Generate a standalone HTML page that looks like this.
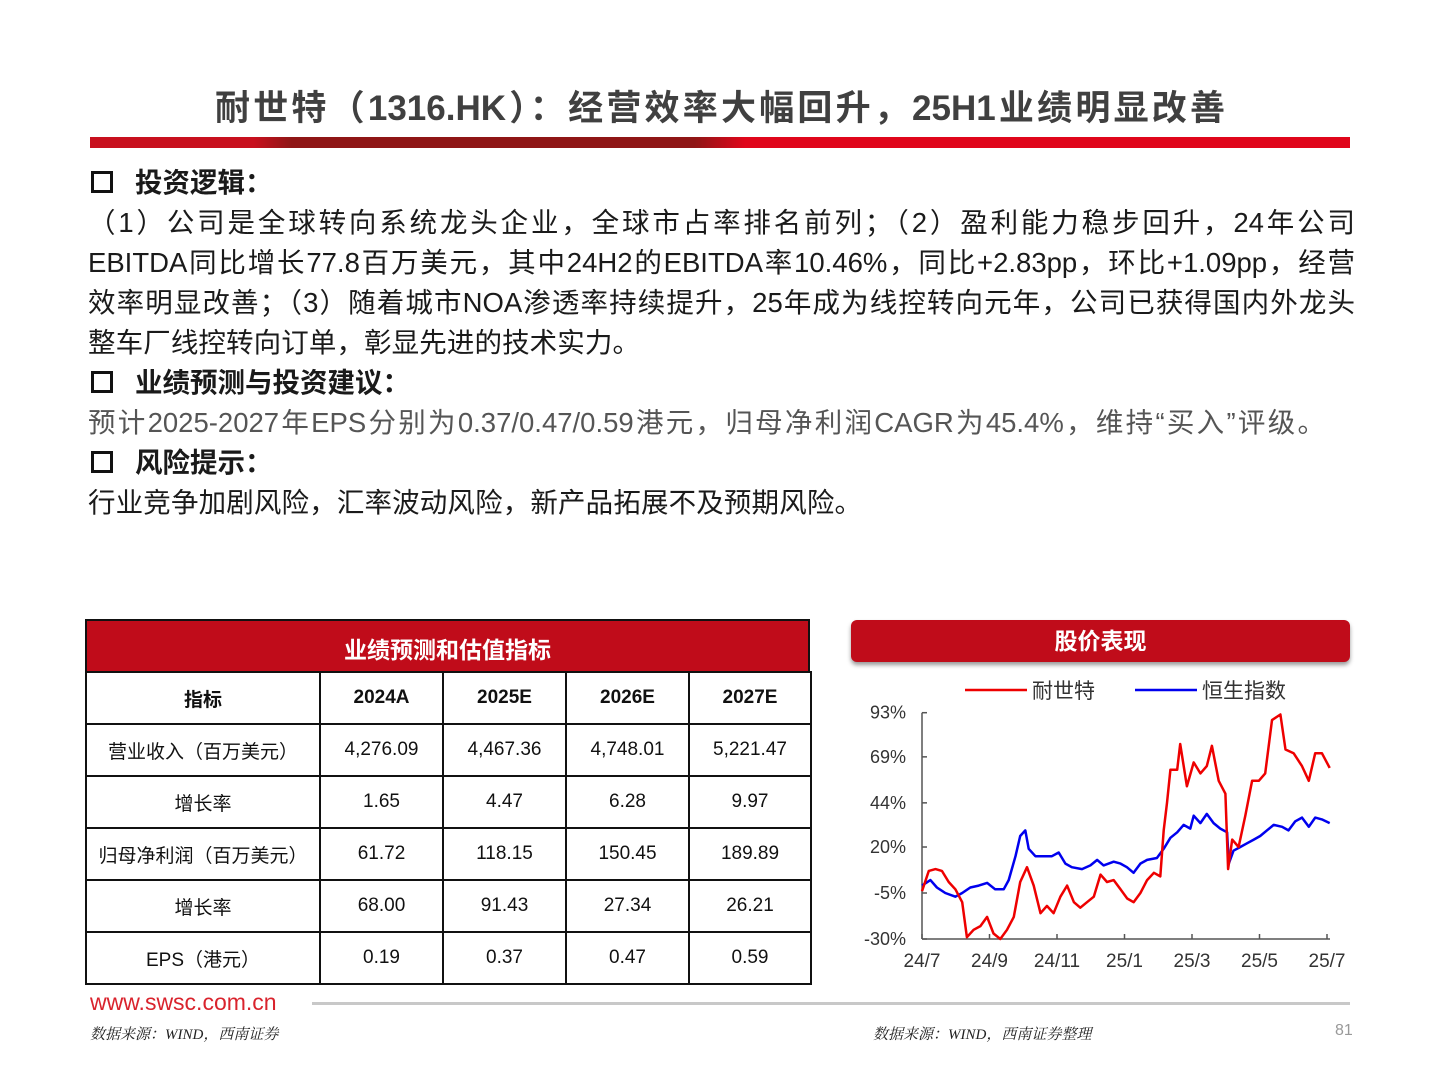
<!DOCTYPE html>
<html><head><meta charset="utf-8">
<style>
body{margin:0;width:1440px;height:1080px;background:#fff;position:relative;overflow:hidden;font-family:"Liberation Sans","Noto Sans CJK SC",sans-serif;}
.abs{position:absolute;}
#title{left:215px;width:1010px;top:80px;text-align:justify;text-align-last:justify;font-size:35px;font-weight:bold;color:#404040;white-space:nowrap;}
#bar{left:90px;top:137px;width:1260px;height:11px;background:linear-gradient(90deg,#c8101e 0%,#c8101e 13%,#8f1616 16%,#8f1616 48%,#e0061b 52%,#e0061b 100%);}
.txt{left:88px;font-size:27.5px;color:#1a1a1a;line-height:40px;white-space:nowrap;}
.ln{display:block;text-align:justify;text-align-last:justify;height:40px;}
.hd{font-weight:bold;}
.box{display:inline-block;width:16px;height:16px;border:3px solid #111;margin-right:22px;vertical-align:-1px;margin-left:3px;}
table{border-collapse:collapse;position:absolute;left:85px;top:671px;}
td{border:2px solid #111;height:50px;text-align:center;font-size:19px;color:#111;padding:0;}
#thead{left:85px;top:619px;width:725px;height:52px;background:#c00c1a;color:#fff;font-weight:bold;font-size:23px;text-align:center;line-height:58px;border:2px solid #111;box-sizing:border-box;border-bottom:none;}
#phead{left:851px;top:620px;width:499px;height:42px;background:#c00c1a;color:#fff;font-weight:bold;font-size:23px;text-align:center;line-height:42px;border-radius:6px;box-shadow:0 3px 4px #999;}
.src{font-size:15px;font-style:italic;color:#222;font-family:"Liberation Serif","Noto Serif CJK SC",serif;}
</style></head><body>
<div id="title" class="abs">耐世特（1316.HK）：经营效率大幅回升，25H1业绩明显改善</div>
<div id="bar" class="abs"></div>
<div class="abs txt hd" style="top:163px"><span class="box"></span>投资逻辑：</div>
<div class="abs txt" style="top:203px">
<span class="ln" style="width:1267px">（1）公司是全球转向系统龙头企业，全球市占率排名前列；（2）盈利能力稳步回升，24年公司</span>
<span class="ln" style="width:1267px">EBITDA同比增长77.8百万美元，其中24H2的EBITDA率10.46%，同比+2.83pp，环比+1.09pp，经营</span>
<span class="ln" style="width:1267px">效率明显改善；（3）随着城市NOA渗透率持续提升，25年成为线控转向元年，公司已获得国内外龙头</span>
<span class="ln" style="width:552px">整车厂线控转向订单，彰显先进的技术实力。</span></div>
<div class="abs txt hd" style="top:363px"><span class="box"></span>业绩预测与投资建议：</div>
<div class="abs txt" style="top:403px;color:#555"><span class="ln" style="width:1237px">预计2025-2027年EPS分别为0.37/0.47/0.59港元，归母净利润CAGR为45.4%，维持“买入”评级。</span></div>
<div class="abs txt hd" style="top:443px"><span class="box"></span>风险提示：</div>
<div class="abs txt" style="top:483px"><span class="ln" style="width:774px">行业竞争加剧风险，汇率波动风险，新产品拓展不及预期风险。</span></div>

<div id="thead" class="abs">业绩预测和估值指标</div>
<table>
<tr><td style="width:232px;font-weight:bold">指标</td><td style="width:121px;font-weight:bold">2024A</td><td style="width:121px;font-weight:bold">2025E</td><td style="width:121px;font-weight:bold">2026E</td><td style="width:120px;font-weight:bold">2027E</td></tr>
<tr><td>营业收入（百万美元）</td><td>4,276.09</td><td>4,467.36</td><td>4,748.01</td><td>5,221.47</td></tr>
<tr><td>增长率</td><td>1.65</td><td>4.47</td><td>6.28</td><td>9.97</td></tr>
<tr><td>归母净利润（百万美元）</td><td>61.72</td><td>118.15</td><td>150.45</td><td>189.89</td></tr>
<tr><td>增长率</td><td>68.00</td><td>91.43</td><td>27.34</td><td>26.21</td></tr>
<tr><td>EPS（港元）</td><td>0.19</td><td>0.37</td><td>0.47</td><td>0.59</td></tr>
</table>

<div id="phead" class="abs">股价表现</div>
<svg id="chart" class="abs" style="left:0;top:0" width="1440" height="1080"></svg>

<div class="abs" style="left:90px;top:989px;font-size:23px;color:#d9232d">www.swsc.com.cn</div>
<div class="abs" style="left:312px;top:1002px;width:1038px;height:3px;background:#c8c8c8"></div>
<div class="abs src" style="left:90px;top:1023px">数据来源：WIND，西南证券</div>
<div class="abs src" style="left:873px;top:1023px">数据来源：WIND，西南证券整理</div>
<div class="abs" style="left:1335px;top:1022px;font-size:16px;color:#999">81</div>

<script>
const yTicks=[93,69,44,20,-5,-30];
const xLabels=["24/7","24/9","24/11","25/1","25/3","25/5","25/7"];
const xLabelMonths=[0,2,4,6,8,10,12];
const redT=[0,0.2,0.4,0.59,0.79,0.99,1.19,1.33,1.53,1.73,1.93,2.12,2.32,2.52,2.72,2.91,3.11,3.31,3.51,3.70,3.90,4.10,4.30,4.50,4.69,4.89,5.09,5.29,5.48,5.68,5.88,6.08,6.27,6.47,6.67,6.87,7.06,7.16,7.26,7.36,7.56,7.65,7.85,8.05,8.25,8.44,8.59,8.79,8.99,9.07,9.19,9.38,9.58,9.78,9.98,10.17,10.37,10.62,10.77,11.01,11.26,11.46,11.65,11.85,12.08];
const redV=[-4,7,8,7,1,-3,-10,-29,-25,-23,-18,-27,-30,-25,-18,1,9,-1,-16,-12,-16,-7,-1,-10,-13,-10,-7,5,1,2,-3,-8,-10,-5,2,6,4,29,44,62,62,76,53,66,60,64,75,56,49,8,24,20,37,56,56,60,89,92,73,71,64,56,71,71,63];
const blueT=[0,0.25,0.44,0.69,0.99,1.19,1.43,1.68,1.93,2.17,2.42,2.57,2.77,2.91,3.06,3.16,3.36,3.56,3.85,4.05,4.25,4.44,4.74,4.99,5.19,5.38,5.68,5.88,6.07,6.27,6.47,6.67,6.96,7.16,7.36,7.56,7.75,7.95,8.05,8.25,8.44,8.64,8.84,9.04,9.09,9.23,9.43,9.63,9.83,10.02,10.22,10.42,10.67,10.86,11.06,11.26,11.46,11.65,11.85,12.08];
const blueV=[-1,2,-2,-5,-7,-5,-2,-1,0.5,-3,-3,2,15,26,29,19,15,15,15,17,11,9,8,10,13,10,12,11,9,6,11,13,14,19,25,28,32,30,37,33,38,33,30,28,11,18,20,22,24,26,29,32,31,29,34,36,31,36,35,33];
const svg=document.getElementById('chart');
const NS='http://www.w3.org/2000/svg';
const X0=922,X1=1327,Y0=712.7,Y1=939;
function xs(t){return X0+(X1-X0)*t/12;}
function ys(v){return Y0+(93-v)*(Y1-Y0)/123;}
function mk(tag,attrs){const e=document.createElementNS(NS,tag);for(const k in attrs)e.setAttribute(k,attrs[k]);svg.appendChild(e);return e;}
let a=mk('line',{x1:X0,y1:Y0,x2:X0,y2:Y1,stroke:'#555','stroke-width':1.5});


let b=mk('line',{x1:X0,y1:Y1,x2:X1+3,y2:Y1,stroke:'#555','stroke-width':1.5});


yTicks.forEach(v=>{
  const y=ys(v);
  mk('line',{x1:X0,y1:y,x2:X0+5,y2:y,stroke:'#555','stroke-width':1.5});
  const t=mk('text',{x:X0-16,y:y+6,'text-anchor':'end','font-size':18,fill:'#333','font-family':'Liberation Sans, sans-serif'});
  t.textContent=v+'%';
  
  
});
xLabels.forEach((l,i)=>{
  const x=xs(xLabelMonths[i]);
  mk('line',{x1:x,y1:Y1,x2:x,y2:Y1-5,stroke:'#555','stroke-width':1.5});
  const t=mk('text',{x:x,y:Y1+28,'text-anchor':'middle','font-size':19,fill:'#333','font-family':'Liberation Sans, sans-serif'});
  t.textContent=l;
  
  
});
function series(T,V,color,name){
  const d=T.map((t,i)=>(i?'L':'M')+xs(t).toFixed(1)+' '+ys(V[i]).toFixed(1)).join(' ');
  const p=mk('path',{d:d,fill:'none',stroke:color,'stroke-width':2.5,'stroke-linejoin':'round'});
  
  
}
series(blueT,blueV,'#0000ee','hsi-index-line');
series(redT,redV,'#ee0000','nexteer-line');
const leg=[['耐世特','#ee0000',965],['恒生指数','#0000ee',1135]];
leg.forEach(l=>{
  const ln=mk('line',{x1:l[2],y1:690,x2:l[2]+62,y2:690,stroke:l[1],'stroke-width':2.5});
  
  
  const t=mk('text',{x:l[2]+67,y:698,'font-size':21,fill:'#333','font-family':'Liberation Sans, Noto Sans CJK SC, sans-serif'});
  t.textContent=l[0];
  
  
});
</script>
</body></html>
